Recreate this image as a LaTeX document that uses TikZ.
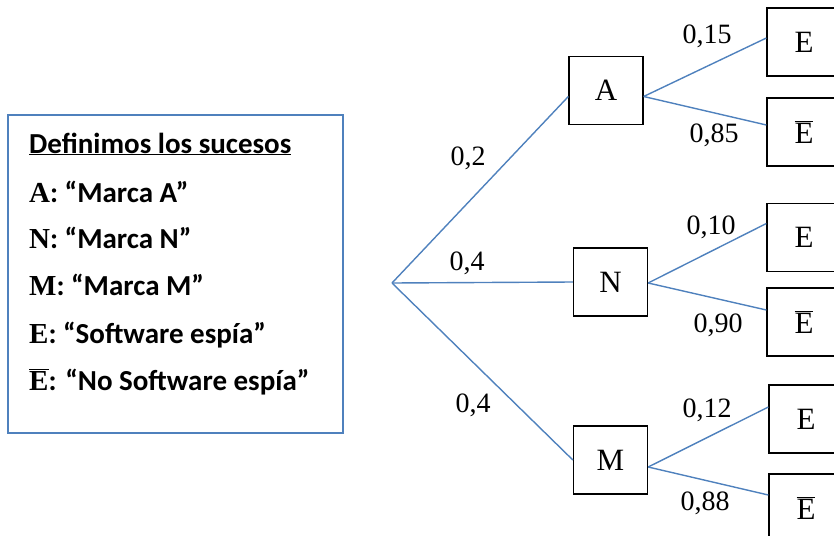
\documentclass[tikz,border=0pt]{standalone}
\usepackage{fontspec}
\setmainfont{Liberation Serif}
\newfontfamily\legfont{Carlito}
\newfontfamily\letfont{Liberation Serif}
\usetikzlibrary{calc}
\definecolor{treeblue}{RGB}{79,129,189}
\newcommand{\legbar}{\ensuremath{\overline{\hbox{\letfont\bfseries E}}}}
\newcommand{\treebar}{\ensuremath{\overline{\hbox{E}}}}
\tikzset{
  evbox/.style={draw=black, line width=1.3pt, minimum width=74pt, minimum height=68pt, inner sep=0pt, font=\fontsize{31}{34}\selectfont},
  branch/.style={draw=treeblue, line width=1.4pt},
  prob/.style={font=\fontsize{28}{31}\selectfont, inner sep=0pt},
  legline/.style={anchor=base west, inner sep=0pt, font=\fontsize{29}{32}\selectfont\legfont\bfseries}
}
\begin{document}
\begin{tikzpicture}[x=1pt,y=-1pt]
\useasboundingbox (0,0) rectangle (834,535);
% legend
\node[draw=treeblue, line width=2pt, minimum width=335pt, minimum height=318pt, inner sep=0pt] (leg) at (175.5,274) {};
\node[legline] (l0) at (29,153) {\underline{Definimos los sucesos}};
\node[legline] (l1) at (29,202) {{\letfont A}: “Marca A”};
\node[legline] (l2) at (29,248) {{\letfont N}: “Marca N”};
\node[legline] (l3) at (29,295) {{\letfont M}: “Marca M”};
\node[legline] (l4) at (29,343) {{\letfont E}: “Software espía”};
\node[legline] (l5) at (29,390) {\legbar: “No Software espía”};
% tree
\coordinate (root) at (392,283);
\node[evbox] (A) at (606,90.5) {A};
\node[evbox] (N) at (610.5,282) {N};
\node[evbox] (M) at (610.5,460) {M};
\node[evbox] (EA) at (804,42) {E};
\node[evbox] (EbA) at (804,132) {\treebar};
\node[evbox] (EN) at (804,237.5) {E};
\node[evbox] (EbN) at (804,322) {\treebar};
\node[evbox] (EM) at (806,419) {E};
\node[evbox] (EbM) at (806,508) {\treebar};
\draw[branch] (root) -- ([yshift=-6pt]A.west);
\draw[branch] (root) -- (N.west);
\draw[branch] (root) -- (M.west);
\draw[branch] ([yshift=-6pt]A.east) -- ([yshift=4pt]EA.west);
\draw[branch] ([yshift=-6pt]A.east) -- ([yshift=7pt]EbA.west);
\draw[branch] ([yshift=-1pt]N.east) -- ([yshift=14pt]EN.west);
\draw[branch] ([yshift=-1pt]N.east) -- ([yshift=12pt]EbN.west);
\draw[branch] ([yshift=-7pt]M.east) -- ([yshift=12pt]EM.west);
\draw[branch] ([yshift=-7pt]M.east) -- ([yshift=13pt]EbM.west);
% probabilities
\node[prob] (p1) at (468,158) {0,2};
\node[prob] (p2) at (467,263) {0,4};
\node[prob] (p3) at (473,405) {0,4};
\node[prob] (p4) at (707,36) {0,15};
\node[prob] (p5) at (714,135) {0,85};
\node[prob] (p6) at (711,227) {0,10};
\node[prob] (p7) at (718,325) {0,90};
\node[prob] (p8) at (707,410) {0,12};
\node[prob] (p9) at (705,503) {0,88};
\end{tikzpicture}
\end{document}
